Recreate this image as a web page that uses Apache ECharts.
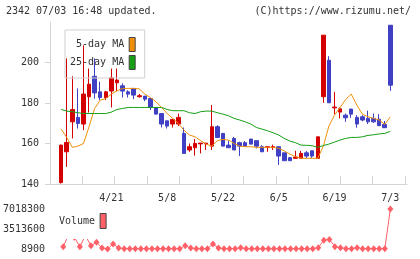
<!DOCTYPE html>
<html>
<head>
<meta charset="utf-8">
<script src="https://cdn.jsdelivr.net/npm/echarts@6/dist/echarts.min.js"></script>
<style>html,body{margin:0;padding:0;background:#fff;}#c{width:420px;height:259px;}</style>
</head>
<body>
<div id="c"></div>
<script>
// Trading days
const dates = ['4/8','4/9','4/10','4/11','4/14','4/15','4/16','4/17','4/18','4/21',
 '4/22','4/23','4/24','4/25','4/28','4/30','5/1','5/2','5/7','5/8',
 '5/9','5/12','5/13','5/14','5/15','5/16','5/19','5/20','5/21','5/22',
 '5/23','5/26','5/27','5/28','5/29','5/30','6/2','6/3','6/4','6/5',
 '6/6','6/9','6/10','6/11','6/12','6/13','6/16','6/17','6/18','6/19',
 '6/20','6/23','6/24','6/25','6/26','6/27','6/30','7/1','7/2','7/3'];
const xTickLabels = ['4/21','5/8','5/22','6/5','6/19','7/3'];
// [open, close, low, high]
const ohlc = [
 [140.7,159.2,140.2,159.4],[155.9,160.5,148.5,202.0],[170.7,176.8,162.5,193.2],[172.9,169.9,167.4,187.2],[169.6,184.4,166.6,208.5],
 [183.1,189.3,175.3,197.0],[193.2,185.0,182.2,202.0],[185.5,182.7,181.4,190.5],[182.7,185.5,181.4,186.0],[185.9,192.4,177.8,197.0],
 [190.0,191.3,185.9,197.0],[188.5,185.9,182.7,189.7],[185.5,184.4,182.7,186.3],[187.2,183.9,181.9,187.2],[183.1,183.6,182.7,184.5],
 [183.4,181.9,180.9,183.4],[182.2,177.8,176.5,182.2],[177.8,174.5,174.5,177.8],[174.8,169.6,167.9,174.8],[171.2,168.6,167.4,171.2],
 [169.6,171.9,167.9,171.9],[169.6,172.9,168.6,174.8],[165.0,155.1,155.1,167.9],[156.8,158.4,155.9,160.0],[157.9,160.0,154.0,162.2],
 [159.8,160.2,155.1,160.2],[159.8,160.2,156.8,160.2],[158.7,168.3,156.8,179.0],[168.3,163.0,163.0,169.0],[165.0,158.7,158.7,165.0],
 [159.2,157.9,157.9,161.4],[162.5,156.8,156.8,163.3],[160.4,158.7,153.8,160.9],[160.4,158.7,158.7,161.2],[162.2,159.7,159.7,162.2],
 [161.4,158.7,157.6,161.4],[158.4,155.9,155.9,159.2],[158.1,158.4,155.9,158.4],[158.1,158.4,156.8,159.4],[158.4,153.8,149.4,158.4],
 [155.4,151.5,151.5,155.4],[153.0,151.5,151.5,153.0],[152.7,153.3,152.5,156.4],[152.7,155.1,152.7,156.4],[155.4,153.8,152.7,156.3],
 [156.4,153.8,152.7,156.4],[152.7,163.3,152.7,163.3],[183.1,213.5,180.1,213.5],[201.1,180.1,180.1,203.1],[177.6,178.0,174.5,185.5],
 [175.5,177.1,172.4,177.8],[174.0,172.7,170.7,174.8],[177.0,174.5,172.7,177.0],[172.9,169.6,167.8,174.0],[173.2,171.6,171.0,174.0],
 [172.4,170.7,169.6,176.2],[172.4,170.7,170.2,174.8],[172.0,168.8,168.8,174.5],[169.4,167.8,167.8,171.1],[218.4,188.8,186.0,218.4]
];
const ma5 = [167.1,163.0,158.1,158.7,160.0,168.3,177.3,181.4,182.2,184.4,
 186.0,187.2,187.2,187.2,187.0,184.4,182.7,180.6,177.8,174.8,
 172.4,169.9,166.6,164.2,163.3,161.4,159.7,158.7,161.4,162.0,
 161.7,160.0,158.7,158.4,158.4,158.1,158.1,158.1,158.1,157.6,
 156.3,154.8,153.5,152.8,152.7,152.7,152.7,158.7,168.6,174.0,
 177.8,181.7,184.4,179.0,174.5,173.2,172.4,171.6,169.4,173.2];
const ma25 = [176.8,176.0,175.7,175.2,174.8,174.8,174.8,174.8,174.8,175.5,
 176.8,177.3,177.8,177.8,177.8,177.8,177.8,177.8,177.8,176.8,
 176.2,176.2,176.2,175.2,174.8,175.7,176.0,176.0,175.2,174.5,
 173.7,172.4,171.6,170.7,169.6,167.9,167.1,166.3,165.3,164.2,
 162.5,161.2,160.4,159.2,159.1,158.9,158.1,159.0,159.7,160.7,
 161.7,162.5,163.0,163.0,163.3,164.0,164.3,164.7,165.0,166.0];
const volume = [420000,2600000,2050000,420000,2350000,600000,1180000,190000,20000,890000,
 190000,60000,50000,60000,50000,60000,50000,60000,50000,60000,
 50000,60000,600000,190000,60000,50000,60000,890000,190000,60000,
 50000,60000,240000,60000,50000,60000,50000,60000,50000,60000,
 50000,60000,50000,60000,50000,60000,240000,1560000,1680000,420000,
 240000,60000,50000,240000,60000,50000,60000,50000,60000,7018300];
const priceTicks = [140,160,180,200];
const volTicks = [8900,3513600,7018300];

const padL = ['_a','_b'], padR = ['_c','_d','_e'];
const cats = padL.concat(dates, padR);
const padData = arr => ['-','-'].concat(arr, ['-','-','-']);
const MONO = 'DejaVu Sans Mono';
const UP = '#d40000', DOWN = '#4040c4', GRAYL = '#d4d4d4';

const chart = echarts.init(document.getElementById('c'));
chart.setOption({
  animation: false,
  backgroundColor: '#fff',
  textStyle: {fontFamily: MONO},
  title: [
    {text: '2342 07/03 16:48 updated.', left: 6, top: 6, padding: 0,
     textStyle: {fontFamily: MONO, fontSize: 10, fontWeight: 'normal', color: '#333'}},
    {text: '(C)https://www.rizumu.net/', right: 9, top: 6, padding: 0,
     textStyle: {fontFamily: MONO, fontSize: 10, fontWeight: 'normal', color: '#333'}}
  ],
  legend: [
    {data: ['5-day MA','25-day MA'], orient: 'vertical', left: 65, top: 30, align: 'right',
     padding: [7,9,8,5], itemGap: 3, itemWidth: 6, itemHeight: 14, icon: 'rect',
     borderColor: '#d0d0d0', borderWidth: 1, borderRadius: 0, backgroundColor: 'transparent',
     selectedMode: false, itemStyle: {borderColor: '#444', borderWidth: 1},
     textStyle: {fontFamily: MONO, fontSize: 10, color: '#333'}},
    {data: ['Volume'], orient: 'vertical', left: 55, top: 205, align: 'right',
     padding: [8,6,10,4], itemWidth: 6, itemHeight: 15, icon: 'rect', z: 10,
     backgroundColor: '#fff', borderWidth: 0, selectedMode: false,
     itemStyle: {borderColor: '#444', borderWidth: 1},
     textStyle: {fontFamily: MONO, fontSize: 10, color: '#333'}}
  ],
  grid: [
    {left: 50, width: 357, top: 22, height: 162},
    {left: 50, width: 357, top: 209, height: 40},
    {left: 50, width: 355, top: 22, height: 162}
  ],
  xAxis: [
    {type: 'category', gridIndex: 0, data: cats, boundaryGap: false,
     axisLine: {lineStyle: {color: GRAYL, width: 1}}, axisTick: {show: false},
     splitLine: {show: false},
     axisLabel: {interval: (i, v) => xTickLabels.indexOf(v) >= 0, margin: 9,
       fontFamily: MONO, fontSize: 10, color: '#333'}},
    {type: 'category', gridIndex: 1, data: cats, boundaryGap: false, show: false},
    {type: 'value', gridIndex: 2, min: 0, max: 11, interval: 1, offset: 4,
     axisLine: {show: false}, axisLabel: {show: false}, splitLine: {show: false},
     axisTick: {show: true, inside: true, length: 8, lineStyle: {color: GRAYL}}}
  ],
  yAxis: [
    {type: 'value', gridIndex: 0, min: 140, max: 220, interval: 20, scale: true,
     axisLine: {show: true, lineStyle: {color: GRAYL}},
     axisTick: {show: true, length: 5, customValues: priceTicks, lineStyle: {color: GRAYL}},
     splitLine: {show: false},
     axisLabel: {customValues: priceTicks, margin: 11, fontFamily: MONO, fontSize: 10, color: '#333'}},
    {type: 'value', gridIndex: 1, min: 8900, max: 7018300, interval: 3504700,
     axisLine: {show: false}, axisTick: {show: false}, splitLine: {show: false},
     axisLabel: {customValues: volTicks, formatter: v => String(Math.round(v)), margin: 7,
       fontFamily: MONO, fontSize: 10, color: '#333'}},
    {type: 'value', gridIndex: 2, min: 0, max: 1, show: false}
  ],
  series: [
    {name: 'price', type: 'candlestick', xAxisIndex: 0, yAxisIndex: 0,
     data: padData(ohlc), barWidth: 4,
     itemStyle: {color: UP, color0: DOWN, borderColor: UP, borderColor0: DOWN, borderWidth: 1}},
    {name: '5-day MA', type: 'line', xAxisIndex: 0, yAxisIndex: 0, data: padData(ma5),
     showSymbol: false, symbol: 'none', color: '#f0900a', lineStyle: {width: 1, color: '#f0900a'}, z: 3},
    {name: '25-day MA', type: 'line', xAxisIndex: 0, yAxisIndex: 0, data: padData(ma25),
     showSymbol: false, symbol: 'none', color: '#16a016', lineStyle: {width: 1, color: '#16a016'}, z: 3},
    {name: 'Volume', type: 'line', xAxisIndex: 1, yAxisIndex: 1, data: padData(volume),
     symbol: 'diamond', symbolSize: [6, 7], showSymbol: true, showAllSymbol: true, color: '#ff6068',
     lineStyle: {width: 1, color: '#ff6068'}, itemStyle: {color: '#ff6068'}, z: 2},
    {name: 'ticks', type: 'line', xAxisIndex: 2, yAxisIndex: 2, data: [], silent: true}
  ]
});
</script>
</body>
</html>
